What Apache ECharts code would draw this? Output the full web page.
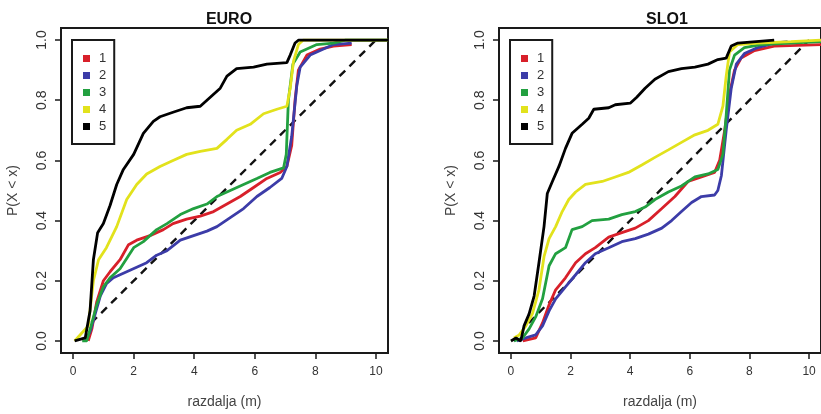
<!DOCTYPE html>
<html>
<head>
<meta charset="utf-8">
<script src="https://cdn.jsdelivr.net/npm/echarts@6/dist/echarts.min.js"></script>
<style>
  html, body { margin: 0; padding: 0; background: #fff; }
  #chart { width: 821px; height: 414px; }
</style>
</head>
<body>
<div id="chart"></div>
<script>
// tick labels
var xTicks = [0, 2, 4, 6, 8, 10];
var yTicks = [0, 0.2, 0.4, 0.6, 0.8, 1.0];
var groups = ['1', '2', '3', '4', '5'];
var panelTitles = ['EURO', 'SLO1'];

// EURO panel, [razdalja, P(X < x)]
var euro1 = [[0.5,0],[0.62,0.04],[0.78,0.13],[1.0,0.2],[1.22,0.23],[1.55,0.27],[1.83,0.32],[2.1,0.335],[2.54,0.35],[2.98,0.37],[3.3,0.39],[3.75,0.405],[4.2,0.415],[4.64,0.43],[5.08,0.455],[5.52,0.48],[5.96,0.51],[6.4,0.54],[6.84,0.56],[7.06,0.58],[7.22,0.65],[7.33,0.8],[7.44,0.9],[7.72,0.95],[8.16,0.97],[8.6,0.98],[9.2,0.985]];
var euro2 = [[0.4,0],[0.56,0.03],[0.73,0.09],[0.9,0.15],[1.1,0.19],[1.33,0.21],[1.77,0.23],[2.1,0.245],[2.43,0.26],[2.76,0.285],[3.1,0.3],[3.54,0.335],[3.98,0.35],[4.42,0.365],[4.75,0.38],[5.19,0.41],[5.63,0.44],[6.07,0.48],[6.5,0.51],[6.89,0.54],[7.06,0.58],[7.22,0.68],[7.39,0.85],[7.5,0.91],[7.83,0.95],[8.27,0.97],[8.6,0.985],[9.2,0.99]];
var euro3 = [[0.3,0],[0.45,0],[0.62,0.06],[0.78,0.12],[1.0,0.18],[1.22,0.21],[1.55,0.24],[2.0,0.31],[2.32,0.33],[2.76,0.37],[3.1,0.39],[3.54,0.42],[3.98,0.44],[4.42,0.455],[4.75,0.48],[5.19,0.5],[5.63,0.52],[6.07,0.54],[6.5,0.56],[6.95,0.575],[7.04,0.62],[7.11,0.8],[7.26,0.92],[7.5,0.96],[8.05,0.985],[8.6,0.99],[9.0,1.0],[10.4,1.0]];
var euro4 = [[0.05,0],[0.23,0.02],[0.5,0.05],[0.67,0.2],[0.84,0.27],[1.1,0.31],[1.44,0.38],[1.77,0.47],[2.1,0.52],[2.43,0.555],[2.87,0.58],[3.3,0.6],[3.75,0.62],[4.2,0.63],[4.75,0.64],[5.08,0.67],[5.4,0.7],[5.85,0.72],[6.29,0.755],[6.73,0.77],[7.06,0.78],[7.17,0.84],[7.28,0.93],[7.44,0.985],[7.6,1.0],[10.4,1.0]];
var euro5 = [[0.05,0],[0.4,0.01],[0.56,0.1],[0.67,0.27],[0.81,0.36],[1.0,0.39],[1.22,0.45],[1.44,0.52],[1.66,0.57],[2.0,0.62],[2.32,0.69],[2.65,0.73],[2.87,0.745],[3.3,0.76],[3.75,0.775],[4.2,0.78],[4.53,0.81],[4.86,0.84],[5.08,0.88],[5.4,0.905],[5.96,0.91],[6.4,0.92],[7.06,0.925],[7.17,0.95],[7.33,0.99],[7.45,1.0],[10.4,1.0]];

// SLO1 panel
var slo1 = [[0.4,0],[0.83,0.01],[1.06,0.06],[1.28,0.12],[1.5,0.17],[1.83,0.21],[2.17,0.26],[2.5,0.29],[2.83,0.31],[3.28,0.345],[3.72,0.36],[4.17,0.375],[4.61,0.4],[5.06,0.44],[5.5,0.48],[5.94,0.53],[6.39,0.545],[6.83,0.56],[7.0,0.6],[7.17,0.7],[7.33,0.82],[7.5,0.9],[7.72,0.94],[8.17,0.965],[8.83,0.98],[10.4,0.985]];
var slo2 = [[0.2,0],[0.5,0.01],[0.83,0.02],[1.06,0.05],[1.28,0.1],[1.5,0.14],[1.83,0.18],[2.17,0.22],[2.5,0.26],[2.83,0.29],[3.28,0.31],[3.72,0.33],[4.17,0.34],[4.61,0.355],[5.06,0.375],[5.39,0.4],[5.72,0.43],[6.06,0.46],[6.39,0.48],[6.83,0.485],[6.94,0.5],[7.06,0.55],[7.22,0.7],[7.39,0.84],[7.56,0.92],[7.83,0.955],[8.28,0.975],[8.83,0.99],[9.28,0.995]];
var slo3 = [[0.1,0],[0.39,0.01],[0.61,0.04],[0.83,0.08],[1.06,0.14],[1.28,0.25],[1.5,0.29],[1.83,0.31],[2.05,0.37],[2.39,0.38],[2.72,0.4],[3.28,0.405],[3.72,0.42],[4.17,0.43],[4.5,0.445],[4.83,0.47],[5.28,0.495],[5.72,0.515],[6.17,0.545],[6.61,0.555],[6.94,0.57],[7.11,0.62],[7.22,0.75],[7.33,0.9],[7.5,0.95],[7.83,0.975],[8.39,0.985],[9.39,0.99],[10.4,0.995]];
var slo4 = [[0.1,0.01],[0.28,0.02],[0.5,0.05],[0.72,0.09],[0.94,0.17],[1.11,0.28],[1.28,0.34],[1.5,0.38],[1.72,0.43],[1.94,0.47],[2.17,0.495],[2.5,0.52],[3.06,0.53],[3.5,0.545],[3.94,0.56],[4.39,0.585],[4.83,0.61],[5.28,0.635],[5.72,0.66],[6.17,0.685],[6.61,0.7],[6.94,0.72],[7.11,0.78],[7.22,0.88],[7.33,0.96],[7.61,0.985],[8.28,0.99],[9.39,0.995],[10.4,1.0]];
var slo5 = [[0,0],[0.17,0.01],[0.33,0],[0.44,0.05],[0.61,0.09],[0.78,0.15],[0.94,0.26],[1.11,0.38],[1.22,0.49],[1.39,0.53],[1.61,0.58],[1.83,0.64],[2.05,0.69],[2.39,0.72],[2.61,0.74],[2.78,0.77],[3.28,0.775],[3.5,0.785],[4.0,0.79],[4.22,0.81],[4.5,0.84],[4.83,0.87],[5.28,0.895],[5.72,0.905],[6.17,0.91],[6.61,0.92],[6.94,0.935],[7.22,0.94],[7.39,0.98],[7.61,0.99],[8.83,1.0]];

// reference (uniform) line
var refLine = [[0.6,0.06],[10,1.0]];

var colors = ['#d8202a', '#3c3ca8', '#22a040', '#e2e21c', '#000000'];
var panels = [[euro1, euro2, euro3, euro4, euro5], [slo1, slo2, slo3, slo4, slo5]];

var chart = echarts.init(document.getElementById('chart'), null, { renderer: 'canvas' });

var gridLefts = [61, 499];
var font = 'Liberation Sans, Arial, sans-serif';

var grids = [], xAxes = [], yAxes = [], series = [], titles = [], legends = [];
gridLefts.forEach(function (left, p) {
  grids.push({
    left: left, top: 28, width: 327, height: 332,
    show: true, borderColor: '#1a1a1a', borderWidth: 2, backgroundColor: 'transparent'
  });
  xAxes.push({
    type: 'value', gridIndex: p, min: -0.4, max: 10.4,
    name: 'razdalja (m)', nameLocation: 'middle', nameGap: 42,
    nameTextStyle: { fontFamily: font, fontSize: 14, color: '#444' },
    axisLine: { show: false, onZero: false },
    splitLine: { show: false },
    axisTick: { show: true, customValues: xTicks, length: 6, lineStyle: { color: '#1a1a1a', width: 1.5 } },
    axisLabel: { customValues: xTicks, margin: 13, fontFamily: font, fontSize: 12, color: '#333' }
  });
  yAxes.push({
    type: 'value', gridIndex: p, min: -0.04, max: 1.04,
    name: 'P(X < x)', nameLocation: 'middle', nameGap: 41,
    nameTextStyle: { fontFamily: font, fontSize: 14, color: '#444' },
    axisLine: { show: false, onZero: false },
    splitLine: { show: false },
    axisTick: { show: true, customValues: yTicks, length: 6, lineStyle: { color: '#1a1a1a', width: 1.5 } },
    axisLabel: {
      customValues: yTicks, rotate: 90, margin: 12, fontFamily: font, fontSize: 14, color: '#333',
      formatter: function (v) { return v.toFixed(1); }
    }
  });
  titles.push({
    text: panelTitles[p], left: left + 163, top: 7, textAlign: 'center',
    textStyle: { fontFamily: font, fontSize: 16, fontWeight: 'bold', color: '#111' }
  });
  legends.push({
    data: groups, orient: 'vertical', left: left + 11, top: 40,
    icon: 'rect', itemWidth: 7, itemHeight: 7, itemGap: 0,
    padding: [10, 8, 9, 11],
    borderColor: '#1a1a1a', borderWidth: 2, backgroundColor: '#fff',
    selectedMode: false,
    textStyle: { fontFamily: font, fontSize: 13, color: '#333', lineHeight: 17, padding: [0, 0, 0, 4] }
  });

  series.push({
    type: 'line', name: 'ref', xAxisIndex: p, yAxisIndex: p, data: refLine,
    showSymbol: false, silent: true, z: 1,
    lineStyle: { color: '#111', width: 2.4, type: [8, 6] }
  });
  panels[p].forEach(function (d, i) {
    series.push({
      type: 'line', name: groups[i], xAxisIndex: p, yAxisIndex: p, data: d,
      showSymbol: false, silent: true, z: 2 + i,
      itemStyle: { color: colors[i] },
      lineStyle: { color: colors[i], width: 2.8 }
    });
  });
});

chart.setOption({
  backgroundColor: '#fff',
  animation: false,
  title: titles,
  legend: legends,
  grid: grids,
  xAxis: xAxes,
  yAxis: yAxes,
  series: series
});
</script>
</body>
</html>
